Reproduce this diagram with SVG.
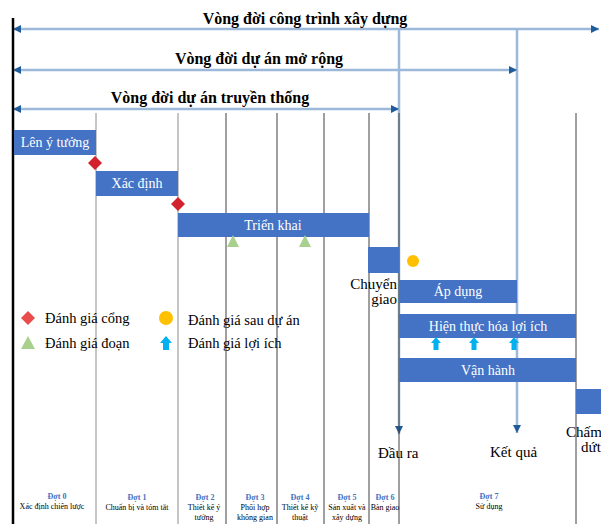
<svg xmlns="http://www.w3.org/2000/svg" width="601" height="524" viewBox="0 0 601 524">
<style>
.title{font-family:"Liberation Serif",serif;font-weight:bold;font-size:16px;fill:#000;text-anchor:middle}
.bar{fill:#4472C4}
.bt{font-family:"Liberation Serif",serif;font-size:14px;fill:#fff;text-anchor:middle}
.lt{font-family:"Liberation Serif",serif;font-size:15px;fill:#000}
.leg{font-family:"Liberation Serif",serif;font-size:14.5px;fill:#000}
.grid{stroke:#404040;stroke-width:1}
.gridl{stroke:#8C8C8C;stroke-width:1}
.life{stroke:#9DB9DA;stroke-width:2.5;fill:none}
.dot{font-family:"Liberation Serif",serif;font-size:8px;font-weight:bold;fill:#4472C4;text-anchor:middle}
.dd{font-family:"Liberation Serif",serif;font-size:8px;fill:#000;text-anchor:middle}
.gate{fill:#D2222D}
.stage{fill:#A9D18E}
.post{fill:#FFC000}
.ben{fill:#00B0F0}
</style>
<defs>
<marker id="ah" viewBox="0 0 10 10" refX="10" refY="5" markerWidth="10" markerHeight="8" markerUnits="userSpaceOnUse" orient="auto-start-reverse">
<path d="M0,0 L10,5 L0,10 Z" fill="#1F5C99"/>
</marker>
</defs>
<rect width="601" height="524" fill="#fff"/>
<g id="grid">
<line class="gridl" x1="96" y1="113" x2="96" y2="524"/>
<line class="gridl" x1="178" y1="113" x2="178" y2="524"/>
<line class="grid" x1="226" y1="113" x2="226" y2="524"/>
<line class="grid" x1="277" y1="113" x2="277" y2="524"/>
<line class="grid" x1="324" y1="113" x2="324" y2="524"/>
<line class="grid" x1="369" y1="113" x2="369" y2="524"/>
<line class="grid" x1="576" y1="113" x2="576" y2="524"/>
</g>
<g id="connectors">
<line class="life" x1="399" y1="29" x2="399" y2="434" marker-end="url(#ah)"/>
<line class="grid" x1="399" y1="113" x2="399" y2="524"/>
<line class="life" x1="517" y1="29" x2="517" y2="433" marker-end="url(#ah)"/>
<line class="life" x1="13" y1="29" x2="599" y2="29" marker-start="url(#ah)" marker-end="url(#ah)"/>
<line class="life" x1="13" y1="70" x2="517" y2="70" marker-start="url(#ah)" marker-end="url(#ah)"/>
<line class="life" x1="13" y1="109" x2="399" y2="109" marker-start="url(#ah)" marker-end="url(#ah)"/>
<line x1="13" y1="18" x2="13" y2="524" stroke="#000" stroke-width="2.5"/>
</g>
<g id="titles">
<text class="title" x="305" y="24">Vòng đời công trình xây dựng</text>
<text class="title" x="259" y="64">Vòng đời dự án mở rộng</text>
<text class="title" x="210" y="103">Vòng đời dự án truyền thống</text>
</g>
<g id="len-y-tuong"><rect class="bar" x="14" y="130" width="82" height="25"/><text class="bt" x="55" y="147">Lên ý tưởng</text></g>
<g id="xac-dinh"><rect class="bar" x="96" y="171" width="82" height="25"/><text class="bt" x="137" y="188">Xác định</text></g>
<g id="trien-khai"><rect class="bar" x="178" y="213" width="191" height="24"/><text class="bt" x="273" y="230">Triển khai</text></g>
<g id="chuyen-giao"><rect class="bar" x="368" y="247" width="31" height="26"/><text class="lt" x="397" y="289" text-anchor="end">Chuyển</text><text class="lt" x="397" y="304" text-anchor="end">giao</text></g>
<g id="ap-dung"><rect class="bar" x="399" y="280" width="118" height="23"/><text class="bt" x="458" y="296">Áp dụng</text></g>
<g id="hien-thuc"><rect class="bar" x="399" y="314" width="177" height="24"/><text class="bt" x="488" y="331">Hiện thực hóa lợi ích</text></g>
<g id="van-hanh"><rect class="bar" x="399" y="358" width="177" height="24"/><text class="bt" x="488" y="375">Vận hành</text></g>
<g id="cham-dut"><rect class="bar" x="576" y="389" width="25" height="25"/><text class="lt" x="566" y="437" font-size="14">Chấm</text><text class="lt" x="581" y="452" font-size="14">dứt</text></g>
<g id="dau-ra"><text class="lt" x="378" y="458">Đầu ra</text></g>
<g id="ket-qua"><text class="lt" x="490" y="457">Kết quả</text></g>
<g id="markers">
<path class="gate" d="M95,156 L102,163 L95,170 L88,163 Z"/>
<path class="gate" d="M178,197 L185,204 L178,211 L171,204 Z"/>
<path class="stage" d="M233,235 L239,247 L227,247 Z"/>
<path class="stage" d="M305,235 L311,247 L299,247 Z"/>
<circle class="post" cx="413" cy="261" r="6"/>
<path class="ben" d="M436,337 L441,343 L438.5,343 L438.5,350 L433.5,350 L433.5,343 L431,343 Z"/>
<path class="ben" d="M474,337 L479,343 L476.5,343 L476.5,350 L471.5,350 L471.5,343 L469,343 Z"/>
<path class="ben" d="M514,337 L519,343 L516.5,343 L516.5,350 L511.5,350 L511.5,343 L509,343 Z"/>
</g>
<g id="legend">
<path d="M28,311 L35,318 L28,325 L21,318 Z" fill="#E84C4C"/>
<text class="leg" x="45" y="323">Đánh giá cổng</text>
<path class="stage" d="M28,336 L35,349 L21,349 Z"/>
<text class="leg" x="45" y="348">Đánh giá đoạn</text>
<circle class="post" cx="166" cy="318" r="7"/>
<text class="leg" x="188" y="325">Đánh giá sau dự án</text>
<path class="ben" d="M166,336 L172,343 L169,343 L169,350 L163,350 L163,343 L160,343 Z"/>
<text class="leg" x="188" y="348">Đánh giá lợi ích</text>
</g>
<g id="phases">
<text class="dot" x="57" y="499">Đợt 0</text><text class="dd" x="52" y="509">Xác định chiến lược</text>
<text class="dot" x="137" y="500">Đợt 1</text><text class="dd" x="137" y="510">Chuẩn bị và tóm tắt</text>
<text class="dot" x="205" y="500">Đợt 2</text><text class="dd" x="204" y="510">Thiết kế ý</text><text class="dd" x="204" y="520">tưởng</text>
<text class="dot" x="255" y="500">Đợt 3</text><text class="dd" x="255" y="510">Phối hợp</text><text class="dd" x="255" y="520">không gian</text>
<text class="dot" x="300" y="500">Đợt 4</text><text class="dd" x="300" y="510">Thiết kế kỹ</text><text class="dd" x="300" y="520">thuật</text>
<text class="dot" x="347" y="500">Đợt 5</text><text class="dd" x="347" y="510">Sản xuất và</text><text class="dd" x="347" y="520">xây dựng</text>
<text class="dot" x="385" y="500">Đợt 6</text><text class="dd" x="385" y="510">Bàn giao</text>
<text class="dot" x="489" y="499">Đợt 7</text><text class="dd" x="489" y="509">Sử dụng</text>
</g>
</svg>
